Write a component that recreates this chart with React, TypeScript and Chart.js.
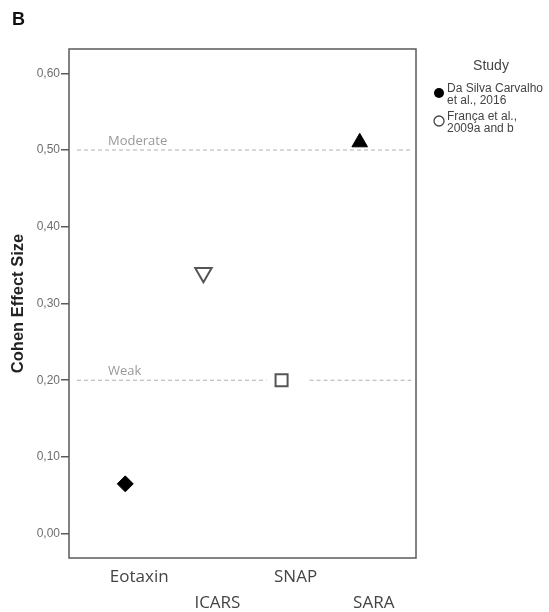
import React, { useEffect, useRef } from "react";
import { Chart, registerables } from "chart.js";

Chart.register(...registerables);

// Outcome measures and their Cohen effect sizes
const panelLabel = "B";
const measures = ["Eotaxin", "ICARS", "SNAP", "SARA"];
const effectSizes = [0.065, 0.34, 0.2, 0.51];
// which study each measure comes from (index into studies)
const measureStudy = [0, 1, 1, 0];
const legendTitle = "Study";
const studies = [
  ["Da Silva Carvalho", "et al., 2016"],
  ["França et al.,", "2009a and b"],
];
const yTickValues = [0, 0.1, 0.2, 0.3, 0.4, 0.5, 0.6];
const yTitle = "Cohen Effect Size";
const thresholdValues = [0.2, 0.5];
const thresholdNames = ["Weak", "Moderate"];

// Marker appearance per measure
const markerShape = ["rectRot", "triangle", "rect", "triangle"];
const markerRotation = [0, 180, 0, 0];
const markerRadius = [8, 9.5, 8.5, 9];
const markerFilled = [true, false, false, true];

const fmt = (v: number) => v.toFixed(2).replace(".", ",");

const decorPlugin = {
  id: "decor",
  beforeDatasetsDraw(chart: any) {
    const { ctx, chartArea, scales } = chart;
    const x = scales.x;
    const y = scales.y;
    ctx.save();
    // threshold reference lines
    thresholdValues.forEach((v, i) => {
      const py = y.getPixelForValue(v);
      ctx.strokeStyle = "#b0b0b0";
      ctx.lineWidth = 1;
      ctx.setLineDash([4, 3]);
      const x0 = chartArea.left + 8;
      const x1 = chartArea.right - 5;
      ctx.beginPath();
      if (thresholdNames[i] === "Weak") {
        const sx = x.getPixelForValue(2);
        ctx.moveTo(x0, py);
        ctx.lineTo(sx - 15, py);
        ctx.moveTo(sx + 28, py);
        ctx.lineTo(x1, py);
      } else {
        ctx.moveTo(x0, py);
        ctx.lineTo(x1, py);
      }
      ctx.stroke();
      ctx.setLineDash([]);
      ctx.fillStyle = "#999";
      ctx.font = "13px 'Open Sans', Lato, sans-serif";
      ctx.textBaseline = "alphabetic";
      ctx.textAlign = "left";
      ctx.fillText(thresholdNames[i], chartArea.left + 39, py - 5);
    });
    ctx.restore();
  },
  afterDraw(chart: any) {
    const { ctx, chartArea } = chart;
    ctx.save();
    // plot frame
    ctx.strokeStyle = "#5a5a5a";
    ctx.lineWidth = 1.5;
    ctx.strokeRect(
      chartArea.left,
      chartArea.top,
      chartArea.right - chartArea.left,
      chartArea.bottom - chartArea.top
    );
    // panel letter
    ctx.fillStyle = "#111";
    ctx.font = "bold 18px 'Liberation Sans', Arial, sans-serif";
    ctx.textAlign = "left";
    ctx.textBaseline = "middle";
    ctx.fillText(panelLabel, 12, 20);
    // legend
    ctx.fillStyle = "#444";
    ctx.font = "14px 'Liberation Sans', Arial, sans-serif";
    ctx.textAlign = "center";
    ctx.fillText(legendTitle, 491, 66);
    ctx.font = "12px 'Liberation Sans', Arial, sans-serif";
    ctx.textAlign = "left";
    studies.forEach((lines, i) => {
      const cy = 93 + i * 28;
      ctx.beginPath();
      ctx.arc(439, cy, 5, 0, Math.PI * 2);
      if (i === 0) {
        ctx.fillStyle = "#000";
        ctx.fill();
      } else {
        ctx.fillStyle = "#fff";
        ctx.fill();
        ctx.strokeStyle = "#444";
        ctx.lineWidth = 1.3;
        ctx.stroke();
      }
      ctx.fillStyle = "#444";
      lines.forEach((t, j) => ctx.fillText(t, 447, cy - 4 + j * 12));
    });
    ctx.restore();
  },
};

export default function App() {
  const ref = useRef<HTMLCanvasElement>(null);

  useEffect(() => {
    if (!ref.current) return;
    const datasets = studies.map((s, si) => {
      const idx = measures.map((_, i) => i).filter((i) => measureStudy[i] === si);
      return {
        label: s.join(" "),
        data: idx.map((i) => ({ x: i, y: effectSizes[i] })),
        pointStyle: idx.map((i) => markerShape[i]),
        rotation: idx.map((i) => markerRotation[i]),
        pointRadius: idx.map((i) => markerRadius[i]),
        backgroundColor: idx.map((i) => (markerFilled[i] ? "#000" : "#fff")),
        borderColor: idx.map((i) => (markerFilled[i] ? "#000" : "#555")),
        borderWidth: idx.map((i) => (markerFilled[i] ? 1 : 2)),
        showLine: false,
      };
    });

    const chart = new Chart(ref.current, {
      type: "scatter",
      data: { datasets: datasets as any },
      plugins: [decorPlugin],
      options: {
        animation: false,
        responsive: false,
        layout: { padding: { left: 0, top: 49, right: 133, bottom: 0 } },
        plugins: { legend: { display: false }, tooltip: { enabled: false } },
        scales: {
          x: {
            type: "linear",
            min: -0.72,
            max: 3.72,
            afterBuildTicks: (s: any) => {
              s.ticks = measures.map((_, i) => ({ value: i }));
            },
            afterFit: (s: any) => {
              s.height = 54;
            },
            grid: { display: false, drawTicks: false },
            border: { display: false },
            ticks: {
              autoSkip: false,
              maxRotation: 0,
              minRotation: 0,
              labelOffset: 14,
              padding: 6,
              color: "#444",
              font: { family: "'Open Sans', Lato, sans-serif", size: 17, lineHeight: 1.53 },
              callback: (v: any) => {
                const i = Math.round(Number(v));
                return i % 2 === 0 ? [measures[i], ""] : ["", measures[i]];
              },
            },
          },
          y: {
            min: -0.0316,
            max: 0.6316,
            afterBuildTicks: (s: any) => {
              s.ticks = yTickValues.map((v) => ({ value: v }));
            },
            afterFit: (s: any) => {
              s.width = 69;
            },
            grid: {
              drawOnChartArea: false,
              drawTicks: true,
              tickLength: 8,
              color: "#5a5a5a",
              lineWidth: 1.5,
            },
            border: { display: false },
            ticks: {
              padding: 1,
              color: "#6e6e6e",
              font: { family: "'Liberation Sans', Arial, sans-serif", size: 12 },
              callback: (v: any) => fmt(Number(v)),
            },
            title: {
              display: true,
              text: yTitle,
              color: "#222",
              padding: { top: 9, bottom: 0 },
              font: { family: "'Liberation Sans', Arial, sans-serif", size: 16.5, weight: "bold" },
            },
          },
        },
      },
    });
    return () => chart.destroy();
  }, []);

  return (
    <div style={{ position: "absolute", left: 0, top: 0, width: 549, height: 612, background: "#fff" }}>
      <canvas ref={ref} width={549} height={612} style={{ width: 549, height: 612 }} />
    </div>
  );
}
